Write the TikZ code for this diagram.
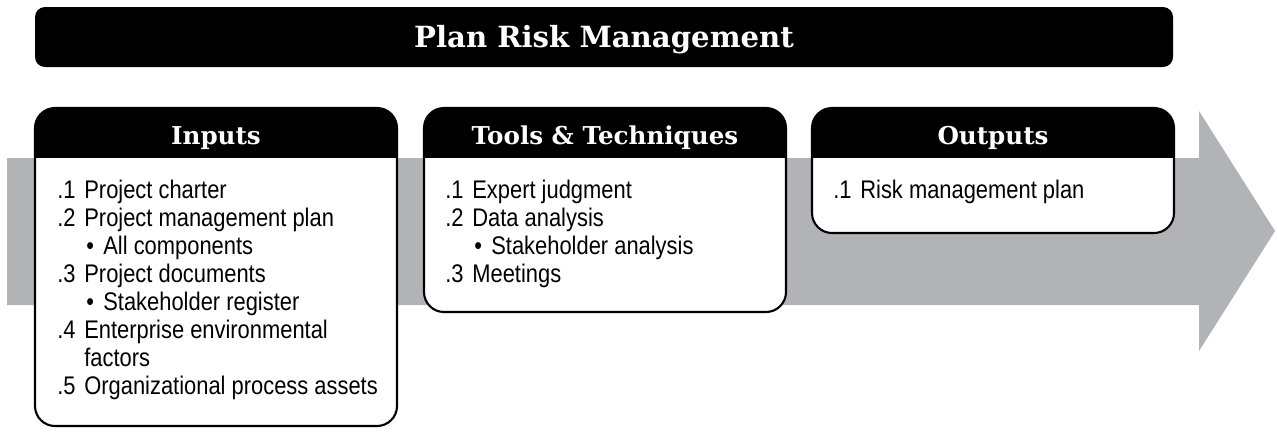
\documentclass[tikz,border=0pt]{standalone}
\usepackage{fontspec}
\setmainfont[FakeStretch=0.86]{Liberation Sans}
\newfontfamily\headfont{DejaVu Serif}
\usepackage{xcolor}
\definecolor{arrowgray}{HTML}{B1B3B6}
\tikzset{
  listtext/.style={anchor=north west, inner sep=0pt, align=left,
    font=\fontsize{14.5pt}{15.9pt}\selectfont},
  headtext/.style={text=white, inner sep=0pt,
    font=\headfont\bfseries\fontsize{14pt}{16pt}\selectfont}
}
\newcommand{\nr}[1]{\makebox[0.54cm][l]{#1}}
\newcommand{\bul}{\makebox[0.38cm][l]{\hspace*{0.04cm}\textbullet}}

\begin{document}
\begin{tikzpicture}[x=0.02cm,y=-0.02cm]
\useasboundingbox (0,0) rectangle (1277,441);

% big grey arrow behind the boxes
\fill[arrowgray] (7,158)--(1199,158)--(1199,111)--(1275,231)--(1199,351)--(1199,305)--(7,305)--cycle;

% title bar
\fill[rounded corners=0.2cm] (35,7) rectangle (1173,67);
\node[headtext, font=\headfont\bfseries\fontsize{16.6pt}{18pt}\selectfont] (title) at (604,40) {Plan Risk Management};

% the three boxes
\foreach \xa/\xb/\yb in {35/397/426, 424/786/312, 812/1174/233}
{	\begin{scope}
	\clip[rounded corners=0.4cm] (\xa,108) rectangle (\xb,\yb);
	\fill[white] (\xa,108) rectangle (\xb,\yb);
	\fill[black] (\xa,108) rectangle (\xb,158);
	\end{scope}
	\draw[line width=1.2pt, rounded corners=0.4cm] (\xa,108) rectangle (\xb,\yb);
}

% headings
\node[headtext] (inhead) at (216,138) {Inputs};
\node[headtext] (toolhead) at (605,138) {Tools \& Techniques};
\node[headtext] (outhead) at (993,138) {Outputs};

% lists
\node[listtext] (inlist) at (57,180) {\nr{.1}Project charter\\
\nr{.2}Project management plan\\
\nr{}\bul All components\\
\nr{.3}Project documents\\
\nr{}\bul Stakeholder register\\
\nr{.4}Enterprise environmental\\
\nr{}factors\\
\nr{.5}Organizational process assets};
\node[listtext] (toollist) at (445,180) {\nr{.1}Expert judgment\\
\nr{.2}Data analysis\\
\nr{}\bul Stakeholder analysis\\
\nr{.3}Meetings};
\node[listtext] (outlist) at (833,180) {\nr{.1}Risk management plan};
\end{tikzpicture}
\end{document}
